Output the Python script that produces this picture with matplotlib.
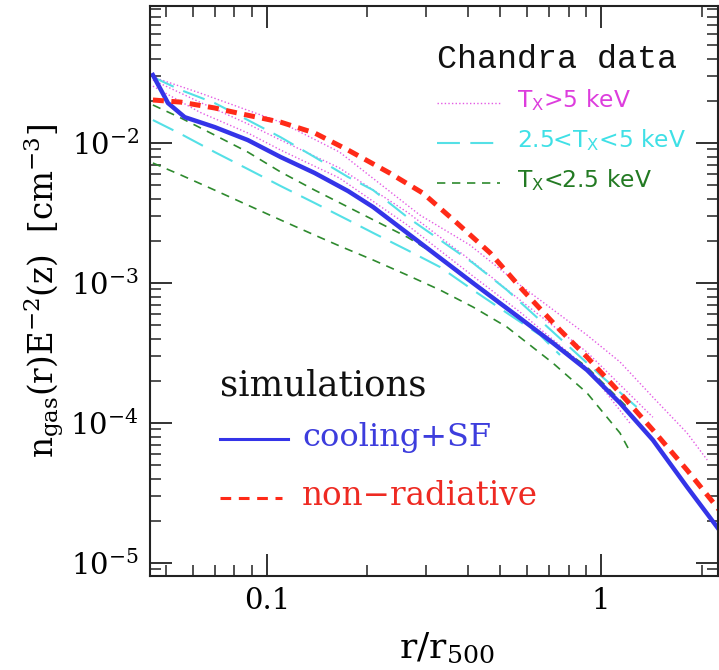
import numpy as np
import matplotlib
matplotlib.use("Agg")
import matplotlib.pyplot as plt
from matplotlib.ticker import LogLocator, NullFormatter, FixedLocator, FixedFormatter

plt.rcParams['font.family'] = ['DejaVu Serif']
plt.rcParams['mathtext.fontset'] = 'dejavuserif'

# --> simulations
r_cool = [0.0456, 0.0506, 0.0568, 0.0698, 0.0877, 0.110, 0.139, 0.175, 0.208, 0.263,
          0.414, 0.572, 0.718, 0.908, 1.14, 1.43, 1.81, 2.26]
n_cool = [3.06e-2, 1.93e-2, 1.53e-2, 1.30e-2, 1.05e-2, 7.94e-3, 6.11e-3, 4.54e-3,
          3.49e-3, 2.28e-3, 1.0e-3, 5.62e-4, 3.73e-4, 2.39e-4, 1.39e-4, 7.56e-5,
          3.49e-5, 1.72e-5]

r_nonrad = [0.0456, 0.0553, 0.0698, 0.0877, 0.110, 0.139, 0.175, 0.233, 0.293,
            0.371, 0.466, 0.583, 0.754, 0.908, 1.14, 1.43, 1.81, 2.26]
n_nonrad = [2.03e-2, 1.96e-2, 1.78e-2, 1.58e-2, 1.41e-2, 1.18e-2, 8.91e-3, 6.11e-3,
            4.39e-3, 2.68e-3, 1.64e-3, 8.91e-4, 4.61e-4, 2.96e-4, 1.64e-4, 8.91e-5,
            4.61e-5, 2.39e-5]

# --> Chandra, T_X > 5 keV
r_hot1 = [0.0456, 0.0630, 0.110, 0.165, 0.287, 0.405, 0.572, 0.908, 1.14, 1.43, 1.81, 2.08]
n_hot1 = [2.96e-2, 2.28e-2, 1.41e-2, 8.62e-3, 3.06e-3, 1.87e-3, 9.68e-4, 4.25e-4,
          2.73e-4, 1.53e-4, 8.48e-5, 5.44e-5]
r_hot2 = [0.0456, 0.0630, 0.0877, 0.110, 0.165, 0.263, 0.414, 0.572, 0.908, 1.43]
n_hot2 = [2.82e-2, 1.96e-2, 1.37e-2, 1.05e-2, 6.63e-3, 3.21e-3, 1.41e-3, 7.56e-4,
          3.21e-4, 1.10e-4]
r_hot3 = [0.0456, 0.0630, 0.0877, 0.110, 0.165, 0.263, 0.414, 0.572, 0.908, 1.22]
n_hot3 = [2.55e-2, 1.66e-2, 1.18e-2, 8.91e-3, 5.62e-3, 2.60e-3, 1.12e-3, 6.21e-4,
          2.47e-4, 1.0e-4]

# --> Chandra, 2.5 < T_X < 5 keV
r_mid1 = [0.0456, 0.0553, 0.0698, 0.0877, 0.110, 0.139, 0.175, 0.208, 0.263, 0.330,
          0.414, 0.523, 1.01, 1.34]
n_mid1 = [2.96e-2, 2.39e-2, 1.93e-2, 1.46e-2, 1.10e-2, 7.94e-3, 5.72e-3, 4.61e-3,
          2.96e-3, 2.03e-3, 1.39e-3, 8.91e-4, 2.13e-4, 1.18e-4]
r_mid2 = [0.0456, 0.0553, 0.0698, 0.0877, 0.110, 0.139, 0.175, 0.208, 0.263, 0.330,
          0.414, 0.523, 0.657, 0.754]
n_mid2 = [1.46e-2, 1.16e-2, 8.62e-3, 6.52e-3, 4.93e-3, 3.73e-3, 2.82e-3, 2.28e-3,
          1.72e-3, 1.30e-3, 8.91e-4, 6.11e-4, 4.25e-4, 3.06e-4]

# --> Chandra, T_X < 2.5 keV
r_cold1 = [0.0456, 0.0553, 0.0698, 0.0877, 0.110, 0.139, 0.175, 0.263, 0.330, 0.397,
           0.626, 0.908, 1.22]
n_cold1 = [1.87e-2, 1.51e-2, 1.14e-2, 8.62e-3, 6.21e-3, 4.61e-3, 3.49e-3, 2.13e-3,
           1.53e-3, 1.10e-3, 4.85e-4, 2.51e-4, 1.24e-4]
r_cold2 = [0.0456, 0.0553, 0.0698, 0.0877, 0.110, 0.139, 0.165, 0.208, 0.263, 0.330,
           0.414, 0.523, 0.718, 0.908, 1.14, 1.205]
n_cold2 = [7.20e-3, 5.91e-3, 4.61e-3, 3.60e-3, 2.82e-3, 2.20e-3, 1.84e-3, 1.46e-3,
           1.14e-3, 8.91e-4, 6.74e-4, 4.85e-4, 2.68e-4, 1.64e-4, 8.48e-5, 6.63e-5]

x_ticks = [0.1, 1]
x_ticklabels = ['0.1', '1']
y_ticks = [1e-5, 1e-4, 1e-3, 1e-2]
y_ticklabels = [r'10$^{-5}$', r'10$^{-4}$', r'10$^{-3}$', r'10$^{-2}$']

c_blue = '#3434e8'
c_red = '#ff2a18'
c_mag = '#e45ae4'
c_cyan = '#55e0e6'
c_green = '#2e8a2e'

fig = plt.figure(figsize=(7.19, 6.70), dpi=100)
ax = fig.add_axes([150 / 719, 94 / 670, 568 / 719, 570 / 670])

for r, n in [(r_hot1, n_hot1), (r_hot2, n_hot2), (r_hot3, n_hot3)]:
    ax.plot(r, n, color=c_mag, lw=1.0, ls=(0, (1, 1.6)))
for r, n in [(r_mid1, n_mid1), (r_mid2, n_mid2)]:
    ax.plot(r, n, color=c_cyan, lw=1.5, ls=(0, (11, 5)))
for r, n in [(r_cold1, n_cold1), (r_cold2, n_cold2)]:
    ax.plot(r, n, color=c_green, lw=1.2, ls=(0, (5, 4)))

ax.plot(r_cool, n_cool, color=c_blue, lw=3.2, solid_joinstyle='round')
ax.plot(r_nonrad, n_nonrad, color=c_red, lw=3.6, ls=(0, (2.2, 1.5)))

ax.set_xscale('log')
ax.set_yscale('log')
ax.set_xlim(0.0447, 2.24)
ax.set_ylim(10 ** -5.093, 10 ** -1.021)

ax.xaxis.set_major_locator(FixedLocator(x_ticks))
ax.xaxis.set_major_formatter(FixedFormatter(x_ticklabels))
ax.xaxis.set_minor_locator(LogLocator(base=10, subs=np.arange(2, 10)))
ax.xaxis.set_minor_formatter(NullFormatter())
ax.yaxis.set_major_locator(FixedLocator(y_ticks))
ax.yaxis.set_major_formatter(FixedFormatter(y_ticklabels))
ax.yaxis.set_minor_locator(LogLocator(base=10, subs=np.arange(2, 10)))
ax.yaxis.set_minor_formatter(NullFormatter())

ax.tick_params(which='both', direction='in', top=True, right=True, color='#222222')
ax.tick_params(which='major', length=16, width=1.3, labelsize=21, pad=8)
ax.tick_params(which='minor', length=8, width=1.1)
for s in ax.spines.values():
    s.set_linewidth(1.5)
    s.set_color('#222222')

ax.set_xlabel(r'r/r$_{500}$', fontsize=26)
ax.xaxis.set_label_coords(0.523, -0.095)
ax.set_ylabel(r'n$_{\rm gas}$(r)E$^{-2}$(z)  [cm$^{-3}$]', fontsize=23.5, labelpad=3)

# --> legends (drawn by hand, two groups)
tr = ax.transAxes
ax.text(0.505, 0.907, 'Chandra data', transform=tr, fontsize=24, va='center', ha='left',
        color='#111111', family='Liberation Mono')
leg = [(0.835, c_mag, (0, (1, 1.6)), 1.0, r'T$_{\mathsf{X}}$>5 keV', '#dd3ddd'),
       (0.765, c_cyan, (0, (11, 5)), 1.5, r'2.5<T$_{\mathsf{X}}$<5 keV', '#3fe0e6'),
       (0.695, c_green, (0, (5, 4)), 1.2, r'T$_{\mathsf{X}}$<2.5 keV', '#237a23')]
for yy, c, ls, lw, lab, tc in leg:
    ax.plot([0.505, 0.616], [yy - 0.006, yy - 0.006], transform=tr, color=c, ls=ls, lw=lw)
    ax.text(0.646, yy, lab, transform=tr, fontsize=16.8, va='center', ha='left', color=tc,
            family='DejaVu Sans')

ax.text(0.123, 0.335, 'simulations', transform=tr, fontsize=25.5, va='center', ha='left',
        color='#111111')
ax.plot([0.123, 0.243], [0.240, 0.240], transform=tr, color=c_blue, lw=2.2)
ax.text(0.268, 0.243, 'cooling+SF', transform=tr, fontsize=23, va='center', ha='left',
        color='#3d3ddd')
ax.plot([0.123, 0.233], [0.137, 0.137], transform=tr, color=c_red, lw=2.2, ls=(0, (3.5, 2.5)))
ax.text(0.268, 0.140, 'non\u2212radiative', transform=tr, fontsize=23.5, va='center',
        ha='left', color='#ee2a22')

fig.savefig('out.png', dpi=100)
